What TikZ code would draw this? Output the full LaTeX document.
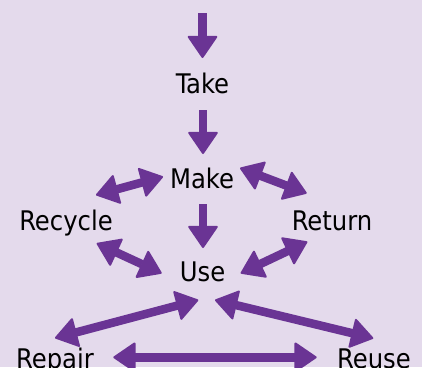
\documentclass[tikz,border=0pt]{standalone}
\usepackage{fontspec}
\setmainfont{DejaVu Sans Condensed}
\usetikzlibrary{arrows.meta}
\definecolor{bgc}{RGB}{228,218,236}
\definecolor{arc}{RGB}{106,52,148}
\tikzset{
  lbl/.style={anchor=base, inner sep=0pt, font=\fontsize{27}{30}\selectfont, text=black},
  onearrow/.style={draw=arc, line width=8.5pt, -{Triangle[width=31pt,length=23pt,round,line width=2pt]}},
  twoarrow/.style={draw=arc, line width=8.5pt, {Triangle[width=31pt,length=23pt,round,line width=2pt]}-{Triangle[width=31pt,length=23pt,round,line width=2pt]}}
}
\begin{document}
\begin{tikzpicture}[x=1pt,y=-1pt]
\fill[bgc] (0,0) rectangle (422,367);
\useasboundingbox (0,0) rectangle (422,367);
% labels
\node[lbl] (take) at (202.5,93.3) {Take};
\node[lbl] (make) at (202,188.3) {Make};
\node[lbl] (recycle) at (66,230) {Recycle};
\node[lbl] (return) at (332,230) {Return};
\node[lbl] (use) at (202.5,281) {Use};
\node[lbl] (repair) at (55,368) {Repair};
\node[lbl] (reuse) at (374,368) {Reuse};
% arrow end points
\coordinate (s0) at (202.5,13);
\coordinate (t0) at (202.5,58);
\coordinate (s1) at (203,110);
\coordinate (t1) at (203,154);
\coordinate (s2) at (203,204);
\coordinate (t2) at (203,248);
\coordinate (mr1) at (163,176.7);
\coordinate (mr2) at (96,195);
\coordinate (mt1) at (240,168);
\coordinate (mt2) at (306.7,193.3);
\coordinate (ru1) at (96.7,243.3);
\coordinate (ru2) at (161.7,273.3);
\coordinate (tu1) at (307.3,241.7);
\coordinate (tu2) at (240.7,273.3);
\coordinate (up1) at (198.3,300);
\coordinate (up2) at (55,338);
\coordinate (us1) at (215,300);
\coordinate (us2) at (373.3,338.3);
\coordinate (rr1) at (113.3,357.3);
\coordinate (rr2) at (316.7,357.3);
% arrows
\draw[onearrow] (s0) -- (t0);
\draw[onearrow] (s1) -- (t1);
\draw[onearrow] (s2) -- (t2);
\draw[twoarrow] (mr1) -- (mr2);
\draw[twoarrow] (mt1) -- (mt2);
\draw[twoarrow] (ru1) -- (ru2);
\draw[twoarrow] (tu1) -- (tu2);
\draw[twoarrow] (up1) -- (up2);
\draw[twoarrow] (us1) -- (us2);
\draw[twoarrow] (rr1) -- (rr2);
\end{tikzpicture}
\end{document}
